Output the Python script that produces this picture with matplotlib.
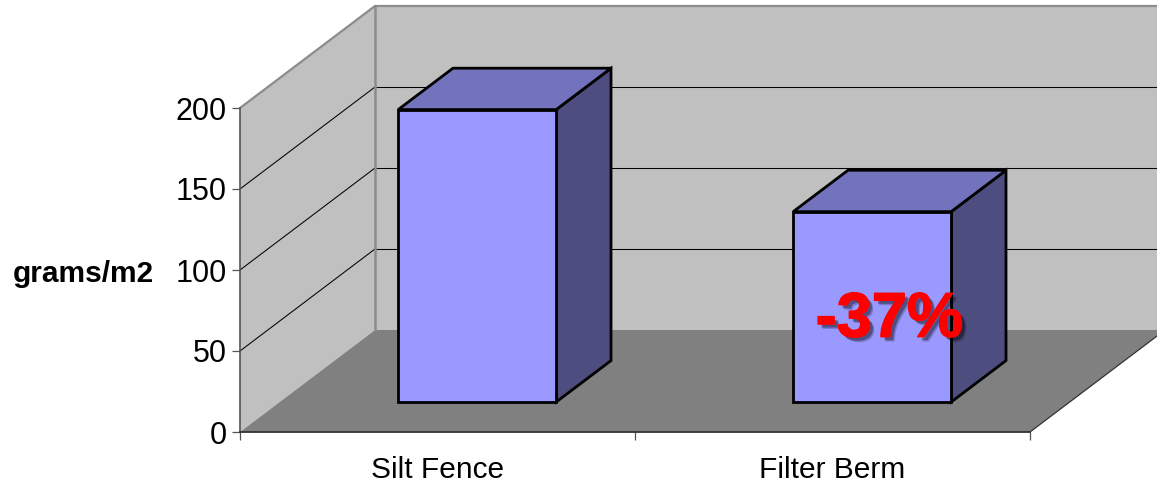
import matplotlib
matplotlib.use("Agg")
import matplotlib.pyplot as plt
import matplotlib.patheffects as pe
from matplotlib.patches import Polygon

# --- data ---
categories = ["Silt Fence", "Filter Berm"]
values = [180.5, 117.5]
y_ticks = [0, 50, 100, 150, 200]
y_label = "grams/m2"
note = "-37%"

W, H = 1157, 482
plt.rcParams["font.family"] = ["Liberation Sans", "DejaVu Sans"]

# oblique projection: full depth of the box, in data units
DEPTH_X = 135 / 395
DEPTH_Y = 102 / 1.62
Y_MAX = 200
BAR_W = 0.4
BAR_D0, BAR_D1 = 0.294, 0.70


def proj(x, y, d):
    return (x + d * DEPTH_X, y + d * DEPTH_Y)


fig = plt.figure(figsize=(W / 100, H / 100), dpi=100, facecolor="white")
ax = fig.add_axes([240 / W, (H - 432) / H, 790 / W, 324 / H])
ax.set_xlim(0, len(categories))
ax.set_ylim(0, Y_MAX)
ax.patch.set_visible(False)


def face(pts, color, z, ec="none", lw=0):
    ax.add_patch(Polygon(pts, closed=True, fc=color, ec=ec, lw=lw, zorder=z,
                         clip_on=False, joinstyle="miter"))


n = len(categories)
# walls and floor
face([proj(0, 0, 1), proj(n, 0, 1), proj(n, Y_MAX, 1), proj(0, Y_MAX, 1)], "#C0C0C0", 1)
face([proj(0, 0, 0), proj(0, Y_MAX, 0), proj(0, Y_MAX, 1), proj(0, 0, 1)], "#C0C0C0", 1)
face([proj(0, 0, 0), proj(n, 0, 0), proj(n, 0, 1), proj(0, 0, 1)], "#808080", 1)

# gridlines: slanted on the side wall, flat (snapped to pixels) on the back wall
for v in y_ticks[1:-1]:
    ax.plot(*zip(proj(0, v, 0), proj(0, v, 1)), color="black", lw=0.75, zorder=2, clip_on=False)
    ax.plot(*zip(proj(0, v, 1), proj(n, v, 1)), color="black", lw=0.75, zorder=2, clip_on=False,
            snap=True)

# wall edges
edge = [proj(0, Y_MAX, 0), proj(0, Y_MAX, 1), proj(n, Y_MAX, 1)]
ax.plot(*zip(*edge), color="#8C8C8C", lw=1.6, zorder=2, clip_on=False)
back = [proj(0, 0, 1), proj(0, Y_MAX, 1)]
ax.plot(*zip(*back), color="#8C8C8C", lw=1.8, zorder=2, clip_on=False)
ax.plot(*zip(proj(n, 0, 0), proj(n, 0, 1)), color="#333333", lw=0.9, zorder=2, clip_on=False)

# bars
for i, v in enumerate(values):
    x0 = i + 0.5 - BAR_W / 2
    x1 = i + 0.5 + BAR_W / 2
    kw = dict(ec="black", lw=2.0)
    face([proj(x1, 0, BAR_D0), proj(x1, 0, BAR_D1), proj(x1, v, BAR_D1), proj(x1, v, BAR_D0)],
         "#4D4D7F", 3, **kw)
    face([proj(x0, v, BAR_D0), proj(x1, v, BAR_D0), proj(x1, v, BAR_D1), proj(x0, v, BAR_D1)],
         "#7373BD", 3, **kw)
    face([proj(x0, 0, BAR_D0), proj(x1, 0, BAR_D0), proj(x1, v, BAR_D0), proj(x0, v, BAR_D0)],
         "#9999FF", 4, **kw)

# axes
for s in ["top", "right"]:
    ax.spines[s].set_visible(False)
ax.spines["left"].set_color("#555555")
ax.spines["left"].set_linewidth(1.2)
ax.spines["bottom"].set_color("#333333")
ax.spines["bottom"].set_linewidth(1.3)
for s in ax.spines.values():
    s.set_zorder(5)

ax.set_yticks(y_ticks)
ax.tick_params(axis="y", length=5.8, width=0.9, color="#555555", labelsize=22, pad=4,
               labelcolor="black")
ax.set_xticks([i + 0.5 for i in range(n)])
ax.set_xticklabels(categories)
ax.tick_params(axis="x", which="major", length=0, labelsize=21.5, pad=17, labelcolor="black")
ax.set_xticks(list(range(n + 1)), minor=True)
ax.tick_params(axis="x", which="minor", length=5.8, width=0.9, color="#555555")

fig.text(83.5 / W, 1 - 274 / H, y_label, ha="center", va="center", fontsize=21.5,
         fontweight="bold", color="black")

# annotation on second bar
ax.text(1.644, 69, note, ha="center", va="center", fontsize=45.5, fontweight="bold",
        color="#FF0000", zorder=6,
        path_effects=[pe.SimplePatchShadow(offset=(3.5, -3.5), shadow_rgbFace="black", alpha=0.2),
                      pe.SimplePatchShadow(offset=(2.5, -2.5), shadow_rgbFace="black", alpha=0.35),
                      pe.withStroke(linewidth=1.0, foreground="#FF0000")])

fig.savefig("out.png", dpi=100, facecolor="white")
